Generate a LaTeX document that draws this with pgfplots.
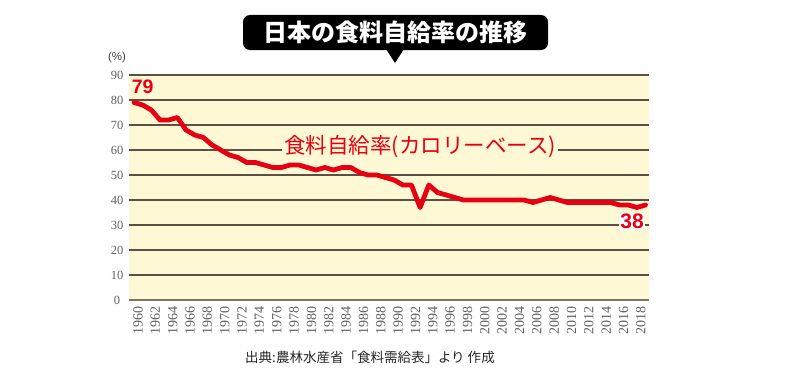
\documentclass[border=0pt]{standalone}
\usepackage{fontspec}
\usepackage{pgfplots}
\pgfplotsset{compat=1.18}
\setmainfont{Liberation Serif}
\newfontfamily\jp{Noto Sans CJK JP}
\newfontfamily\lsans{Liberation Sans}
\definecolor{redc}{HTML}{E60012}
\definecolor{bgc}{HTML}{FFF8D4}
\definecolor{gridc}{HTML}{5B5043}
\definecolor{axisc}{HTML}{7D7263}
\definecolor{tickc}{HTML}{606060}
\begin{document}
\begin{tikzpicture}[x=1pt,y=1pt]
\useasboundingbox (0,0) rectangle (800,384);
\begin{axis}[
  at={(129pt,84pt)}, anchor=south west,
  width=520pt, height=225pt, scale only axis,
  xmin=1959.42, xmax=2019.4, ymin=0, ymax=90,
  xtick={1960,1962,...,2018}, ytick={0,10,...,90},
  ymajorgrids, grid style={draw=gridc, line width=1.3pt},
  axis background/.style={fill=bgc},
  axis x line*=bottom, axis y line*=left,
  x axis line style={draw=axisc, line width=2.5pt, -},
  y axis line style={draw=none},
  major tick length=0pt,
  xticklabel style={xshift=4pt, yshift=-3pt, rotate=90, anchor=east, font=\fontsize{14}{14}\selectfont, text=tickc},
  yticklabel style={anchor=center, xshift=-12pt, font=\fontsize{12.5}{12.5}\selectfont, text=tickc},
  /pgf/number format/assume math mode=true,
  /pgf/number format/1000 sep={},
  clip=false
]
\addplot[draw=redc, line width=4.8pt, line join=round, line cap=round] coordinates {
(1960,79)(1961,78)(1962,76)(1963,72)(1964,72)(1965,73)(1966,68)(1967,66)(1968,65)(1969,62)
(1970,60)(1971,58)(1972,57)(1973,55)(1974,55)(1975,54)(1976,53)(1977,53)(1978,54)(1979,54)
(1980,53)(1981,52)(1982,53)(1983,52)(1984,53)(1985,53)(1986,51)(1987,50)(1988,50)(1989,49)
(1990,48)(1991,46)(1992,46)(1993,37)(1994,46)(1995,43)(1996,42)(1997,41)(1998,40)(1999,40)
(2000,40)(2001,40)(2002,40)(2003,40)(2004,40)(2005,40)(2006,39)(2007,40)(2008,41)(2009,40)
(2010,39)(2011,39)(2012,39)(2013,39)(2014,39)(2015,39)(2016,38)(2017,38)(2018,37)(2019,38)
};
\node[font=\lsans\bfseries\fontsize{19.5}{19.5}\selectfont, text=redc] at (axis cs:1961.0,85.2) {79};
\node[font=\lsans\bfseries\fontsize{21}{21}\selectfont, text=redc, fill=white, inner sep=1.5pt] at (axis cs:2017.45,31.4) {38};
\node[font=\jp\fontsize{21.5}{21.5}\selectfont, text=redc, fill=bgc, inner sep=2pt] at (axis cs:1993.0,61.2) {食料自給率(カロリーベース)};
\end{axis}
\fill[black, rounded corners=7pt] (243,334) rectangle (548,369);
\fill[black] (386,335) -- (395,321) -- (404,335) -- cycle;
\node[font=\jp\bfseries\fontsize{24}{24}\selectfont, text=white] at (395.5,351.5) {日本の食料自給率の推移};
\node[font=\lsans\fontsize{11.5}{11.5}\selectfont, text=black!75] at (117,326) {(\%)};
\node[font=\jp\fontsize{13.5}{13.5}\selectfont, text=black!85] at (370,27) {出典:農林水産省「食料需給表」より 作成};
\end{tikzpicture}
\end{document}
